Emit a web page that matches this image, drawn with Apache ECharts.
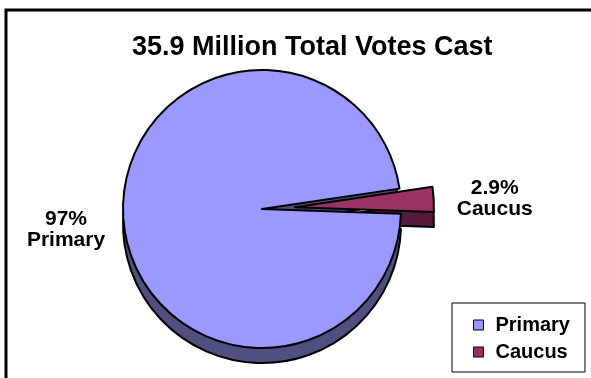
<!DOCTYPE html>
<html>
<head>
<meta charset="utf-8">
<script src="https://cdn.jsdelivr.net/npm/echarts@6/dist/echarts.min.js"></script>
<style>html,body{margin:0;padding:0;background:#fff}#c{width:591px;height:378px}</style>
</head>
<body>
<div id="c"></div>
<script>
// ---- data ----
const titleText = '35.9 Million Total Votes Cast';
const categories = ['Primary', 'Caucus'];
const votesMillions = [34.86, 1.04];
const pctLabels = ['97%', '2.9%'];
const topColors = ['#9999ff', '#993366'];
const sideColors = ['#4f4f80', '#561a3a'];

const FONT = '"Liberation Sans", Arial, sans-serif';
const chart = echarts.init(document.getElementById('c'), null, {renderer: 'canvas'});

function buildData(colors) {
  return categories.map((n, i) => ({
    name: n,
    value: votesMillions[i],
    selected: n === 'Caucus',
    itemStyle: {color: colors[i]}
  }));
}

const common = {
  type: 'pie',
  radius: 139,
  startAngle: -2,
  clockwise: true,
  selectedMode: 'single',
  selectedOffset: 33,
  avoidLabelOverlap: false,
  emphasis: {disabled: true},
  select: {itemStyle: {borderColor: '#000', borderWidth: 2}},
  itemStyle: {borderColor: '#000', borderWidth: 2},
  labelLine: {show: false}
};

chart.setOption({
  animation: false,
  backgroundColor: '#fff',
  title: {
    text: titleText,
    left: 127,
    top: 29,
    textStyle: {fontFamily: FONT, fontSize: 27, fontWeight: 'bold', color: '#000'}
  },
  legend: {
    orient: 'vertical',
    left: 452,
    top: 303,
    data: categories,
    icon: 'rect',
    itemWidth: 10,
    itemHeight: 10,
    itemGap: 7,
    padding: [12, 15, 10, 21],
    borderColor: '#000',
    borderWidth: 1,
    backgroundColor: '#fff',
    selectedMode: false,
    itemStyle: {borderColor: '#000', borderWidth: 1},
    textStyle: {fontFamily: FONT, fontSize: 20, fontWeight: 'bold', color: '#000', padding: [0, 0, 0, 7]}
  },
  graphic: [{
    type: 'rect',
    z: -1,
    shape: {x: 6, y: 10, width: 640, height: 420},
    style: {fill: 'none', stroke: '#000', lineWidth: 3},
    silent: true
  }],
  series: [
    Object.assign({}, common, {
      name: 'Votes',
      z: 3,
      center: [262, 209],
      data: buildData(topColors),
      label: {
        show: true,
        position: 'outside',
        formatter: p => pctLabels[p.dataIndex] + '\n' + p.name,
        fontFamily: FONT,
        fontSize: 21,
        fontWeight: 'bold',
        color: '#000',
        lineHeight: 21
      },
      labelLayout: function (p) {
        return p.dataIndex === 0
          ? {x: 66, y: 230, align: 'center', verticalAlign: 'middle'}
          : {x: 495, y: 194, dx: 11, align: 'center', verticalAlign: 'middle'};
      }
    }),
    Object.assign({}, common, {
      name: 'Depth',
      z: 2,
      center: [262, 224],
      silent: true,
      data: buildData(sideColors),
      label: {show: false}
    })
  ]
});
</script>
</body>
</html>
